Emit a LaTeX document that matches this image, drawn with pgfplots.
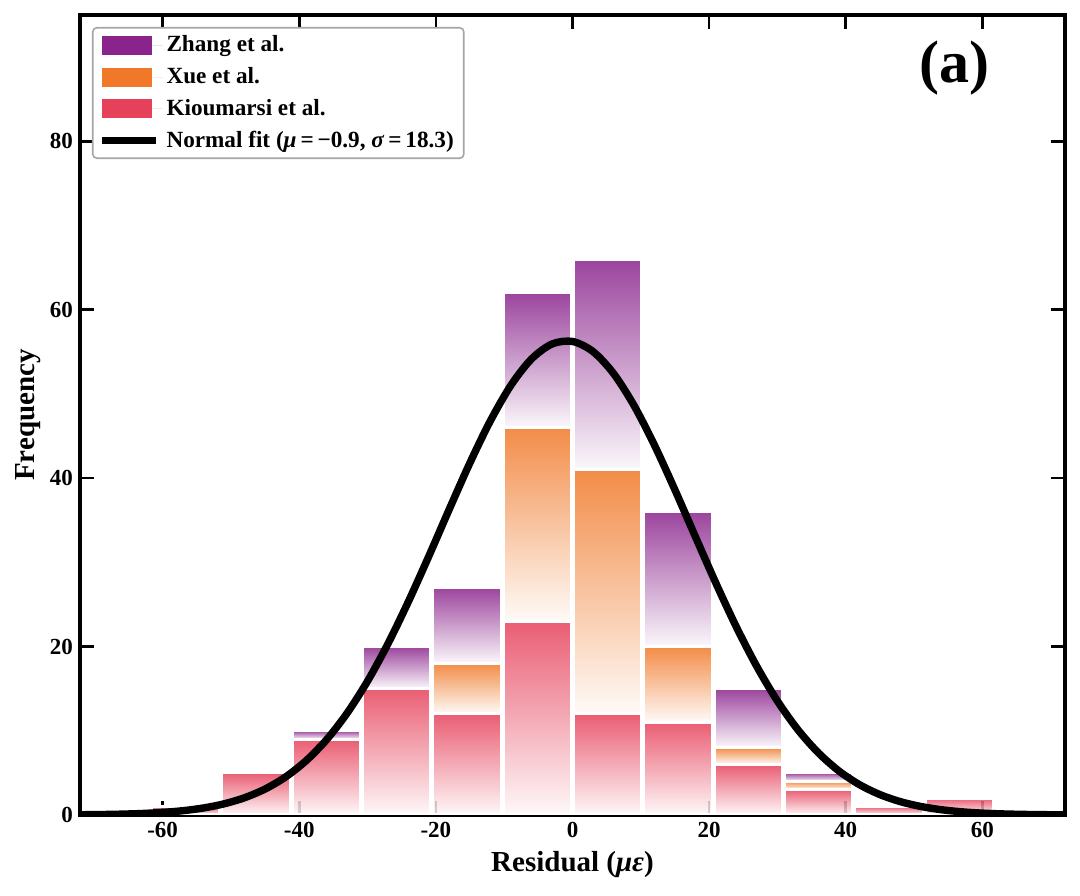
\documentclass[border=0pt]{standalone}
\usepackage{fontspec}
\setmainfont{Liberation Serif}
\usepackage{pgfplots}
\pgfplotsset{compat=1.18}
\definecolor{czhang}{RGB}{138,36,140}
\definecolor{cxue}{RGB}{240,120,40}
\definecolor{ckiou}{RGB}{230,65,90}
\pgfplotsset{
  myarea/.style={legend image code/.code={\fill[##1, draw=none, sharp corners] (0pt,-4.75pt) rectangle (24.5pt,4.75pt); \path[draw=none] (0pt,0pt) -- (30pt,0pt);}},
}
% one stacked segment of a histogram bin: colour, left edge, right edge, bottom, top
\newcommand{\seg}[5]{\addplot[forget plot, draw=white, line width=1.5pt, top color=#1, bottom color=#1!4, fill opacity=0.85, sharp plot] coordinates {(#2,#4) (#2,#5) (#3,#5) (#3,#4)} -- cycle;}
\begin{document}
\begin{tikzpicture}
\begin{axis}[
  scale only axis, width=492.5pt, height=400pt,
  xmin=-72.1, xmax=72.1, ymin=0, ymax=95,
  xtick={-60,-40,...,60}, ytick={0,20,...,80},
  tick align=inside, major tick length=7pt,
  tick style={line width=1.3pt, black},
  axis line style={line width=1.6pt},
  ticklabel style={font=\fontsize{11.5}{12}\selectfont\bfseries},
  /pgf/number format/assume math mode=true,
  xlabel={Residual (\textit{με})},
  ylabel={Frequency},
  label style={font=\fontsize{14.5}{16}\selectfont\bfseries},
  xlabel style={at={(axis description cs:0.5,0)}, anchor=center, yshift=-25pt},
  ylabel style={at={(axis description cs:0,0.5)}, anchor=center, yshift=26pt},
  legend style={at={(rel axis cs:0,1)}, xshift=6pt, yshift=-6pt, anchor=north west,
    draw=gray!70, rounded corners=2pt, line width=0.8pt,
    font=\fontsize{11.6}{13}\selectfont\bfseries, row sep=2.3pt},
  legend cell align=left,
]
\coordinate (ll) at (rel axis cs:0,0);
\coordinate (ur) at (rel axis cs:1,1);
% Kioumarsi et al. (bottom): 1 5 9 15 12 23 12 11 6 3 1 2
\seg{ckiou}{-61.65}{-51.65}{0}{1}
\seg{ckiou}{-51.35}{-41.35}{0}{5}
\seg{ckiou}{-41.05}{-31.05}{0}{9}
\seg{ckiou}{-30.75}{-20.75}{0}{15}
\seg{ckiou}{-20.45}{-10.45}{0}{12}
\seg{ckiou}{-10.15}{-0.15}{0}{23}
\seg{ckiou}{0.15}{10.15}{0}{12}
\seg{ckiou}{10.45}{20.45}{0}{11}
\seg{ckiou}{20.75}{30.75}{0}{6}
\seg{ckiou}{31.05}{41.05}{0}{3}
\seg{ckiou}{41.35}{51.35}{0}{1}
\seg{ckiou}{51.65}{61.65}{0}{2}
% Xue et al. (middle): 6 23 29 9 2 1
\seg{cxue}{-20.45}{-10.45}{12}{18}
\seg{cxue}{-10.15}{-0.15}{23}{46}
\seg{cxue}{0.15}{10.15}{12}{41}
\seg{cxue}{10.45}{20.45}{11}{20}
\seg{cxue}{20.75}{30.75}{6}{8}
\seg{cxue}{31.05}{41.05}{3}{4}
% Zhang et al. (top): 1 5 9 16 25 16 7 1
\seg{czhang}{-41.05}{-31.05}{9}{10}
\seg{czhang}{-30.75}{-20.75}{15}{20}
\seg{czhang}{-20.45}{-10.45}{18}{27}
\seg{czhang}{-10.15}{-0.15}{46}{62}
\seg{czhang}{0.15}{10.15}{41}{66}
\seg{czhang}{10.45}{20.45}{20}{36}
\seg{czhang}{20.75}{30.75}{8}{15}
\seg{czhang}{31.05}{41.05}{4}{5}
\addlegendimage{myarea, fill=czhang}
\addlegendentry{Zhang et al.}
\addlegendimage{myarea, fill=cxue}
\addlegendentry{Xue et al.}
\addlegendimage{myarea, fill=ckiou}
\addlegendentry{Kioumarsi et al.}
\addplot[smooth, black, line width=3.7pt,
  legend image code/.code={\draw[black, line width=3.7pt] (0pt,0pt) -- (26.5pt,0pt); \path[draw=none] (0pt,0pt) -- (30pt,0pt);}]
  coordinates {(-72,0.030) (-69,0.055) (-66,0.101) (-63,0.178) (-60,0.306) (-57,0.513) (-54,0.836) (-51,1.328) (-48,2.052) (-45,3.086) (-42,4.519) (-39,6.445) (-36,8.945) (-33,12.089) (-30,15.901) (-27,20.360) (-24,25.383) (-21,30.798) (-18,36.383) (-15,41.841) (-12,46.840) (-9,51.046) (-6,54.156) (-3,55.931) (0,56.232) (3,55.036) (6,52.437) (9,48.636) (12,43.914) (15,38.599) (18,33.028) (21,27.514) (24,22.308) (27,17.609) (30,13.532) (33,10.123) (36,7.373) (39,5.227) (42,3.607) (45,2.424) (48,1.585) (51,1.010) (54,0.626) (57,0.377) (60,0.222) (63,0.127) (66,0.071) (69,0.038) (72,0.020)};
\addlegendentry{Normal fit (\textit{μ}\,=\,−0.9, \textit{σ}\,=\,18.3)}
\node[font=\fontsize{30}{32}\selectfont\bfseries] at (axis cs:55.9,88.7) {(a)};
\end{axis}
\pgfresetboundingbox
\path ([shift={(-40pt,-40.5pt)}]ll) rectangle ([shift={(7.5pt,7.5pt)}]ur);
\end{tikzpicture}
\end{document}
